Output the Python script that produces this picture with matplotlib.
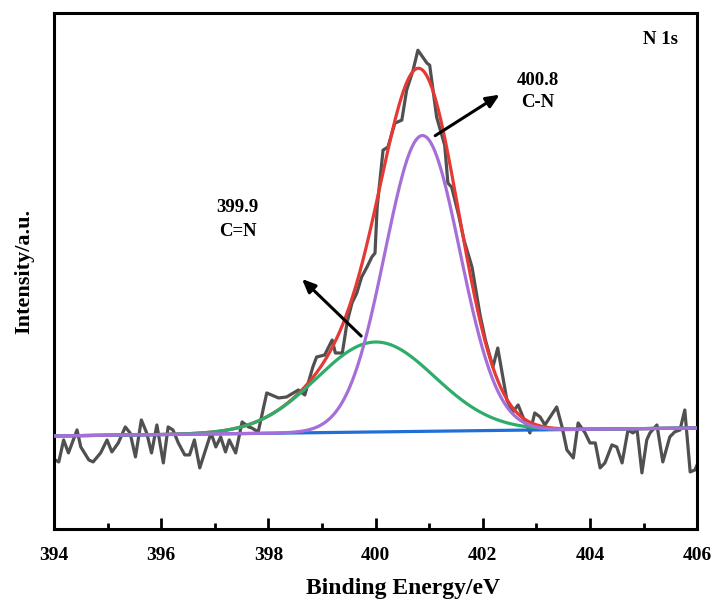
import numpy as np
import matplotlib
matplotlib.use('Agg')
from matplotlib import pyplot as plt

plt.rcParams['font.family'] = ['Liberation Serif', 'DejaVu Serif']
plt.rcParams['font.weight'] = 'bold'

# raw N 1s spectrum (arb. units)
energy = [394.02, 394.09, 394.18, 394.27, 394.43, 394.50, 394.65, 394.73, 394.87, 394.99,
          395.08, 395.20, 395.33, 395.42, 395.52, 395.63, 395.73, 395.82, 395.92, 396.04,
          396.13, 396.22, 396.32, 396.44, 396.53, 396.62, 396.72, 396.84, 396.93, 397.02,
          397.11, 397.20, 397.27, 397.39, 397.51, 397.63, 397.69, 397.81, 397.97, 398.19,
          398.34, 398.56, 398.68, 398.83, 398.90, 399.05, 399.19, 399.25, 399.38, 399.47,
          399.56, 399.65, 399.74, 399.84, 399.93, 399.99, 400.03, 400.14, 400.23, 400.36,
          400.49, 400.58, 400.70, 400.79, 400.96, 401.01, 401.14, 401.29, 401.35, 401.42,
          401.55, 401.65, 401.80, 401.95, 402.05, 402.19, 402.28, 402.45, 402.56, 402.66,
          402.75, 402.88, 402.97, 403.07, 403.16, 403.38, 403.48, 403.57, 403.69, 403.78,
          403.91, 404.00, 404.10, 404.19, 404.28, 404.41, 404.50, 404.60, 404.71, 404.80,
          404.88, 404.97, 405.06, 405.12, 405.25, 405.36, 405.49, 405.58, 405.68, 405.77,
          405.87, 405.96, 406.00]
intensity = [69, 67, 89, 76, 99, 82, 69, 67, 76, 89,
             77, 86, 102, 96, 72, 109, 96, 76, 104, 66,
             102, 99, 86, 74, 74, 89, 61, 81, 96, 82,
             92, 77, 89, 76, 107, 102, 101, 97, 136, 131,
             132, 139, 134, 162, 172, 174, 189, 176, 176, 207,
             226, 236, 252, 262, 272, 276, 322, 379, 382, 406,
             409, 439, 459, 479, 466, 464, 412, 384, 346, 342,
             314, 289, 262, 214, 189, 162, 181, 129, 117, 124,
             112, 96, 116, 112, 104, 122, 102, 79, 71, 106,
             96, 86, 86, 61, 66, 84, 82, 66, 99, 96,
             99, 56, 89, 96, 104, 67, 92, 97, 99, 119,
             57, 59, 64]

# fit: linear background + two Gaussian components
bg_ends = [93, 101]            # background at 394 and 406 eV
peak_names = ['C=N', 'C-N']
peak_centers = [400.0, 400.875]
peak_heights = [90, 296]
peak_sigmas = [1.1, 0.70]

x = np.linspace(394, 406, 600)
bg = np.interp(x, [394, 406], bg_ends)
comps = [h * np.exp(-(x - c) ** 2 / (2 * s ** 2))
         for c, h, s in zip(peak_centers, peak_heights, peak_sigmas)]
envelope = bg + comps[0] + comps[1]

fig = plt.figure(figsize=(7.15, 6.01), dpi=100)
ax = fig.add_axes([0.0755, 0.12, 0.8995, 0.858])

ax.plot(energy, intensity, color='#505050', lw=2.3, zorder=1)
ax.plot(x, envelope, color='#E53935', lw=2.3, zorder=2)
ax.plot(x, bg, color='#1E6FDC', lw=2.3, zorder=3)
ax.plot(x, bg + comps[0], color='#2EAD6A', lw=2.3, zorder=4)
ax.plot(x, bg + comps[1], color='#A66FD8', lw=2.3, zorder=5)

# annotations
arrow = dict(arrowstyle='-|>,head_length=0.8,head_width=0.35', color='black', lw=2.2)
ax.annotate('', xy=(398.59, 252), xytext=(399.77, 191), arrowprops=arrow)
ax.annotate('', xy=(402.36, 436), xytext=(401.07, 392), arrowprops=arrow)
ax.text(397.43, 322, '399.9', ha='center', va='center', fontsize=13.5, fontweight='bold')
ax.text(397.43, 298, peak_names[0], ha='center', va='center', fontsize=13.5, fontweight='bold')
ax.text(403.03, 449, '400.8', ha='center', va='center', fontsize=13.5, fontweight='bold')
ax.text(403.03, 427, peak_names[1], ha='center', va='center', fontsize=13.5, fontweight='bold')
ax.text(405.31, 490, 'N 1s', ha='center', va='center', fontsize=13.5, fontweight='bold')

ax.set_xlim(394, 406)
ax.set_ylim(0, 516)
ax.set_xticks(np.arange(394, 407, 2))
ax.set_xticks(np.arange(395, 406, 2), minor=True)
ax.set_yticks([])
ax.tick_params(axis='x', which='major', direction='in', length=8, width=2, pad=13, labelsize=14)
ax.tick_params(axis='x', which='minor', direction='in', length=4, width=2)
for sp in ax.spines.values():
    sp.set_linewidth(2.2)

ax.set_xlabel('Binding Energy/eV', fontsize=17, fontweight='bold')
ax.xaxis.set_label_coords(0.543, -0.096)
ax.set_ylabel('Intensity/a.u.', fontsize=16, fontweight='bold', labelpad=14)

plt.savefig('out.png', dpi=100)
